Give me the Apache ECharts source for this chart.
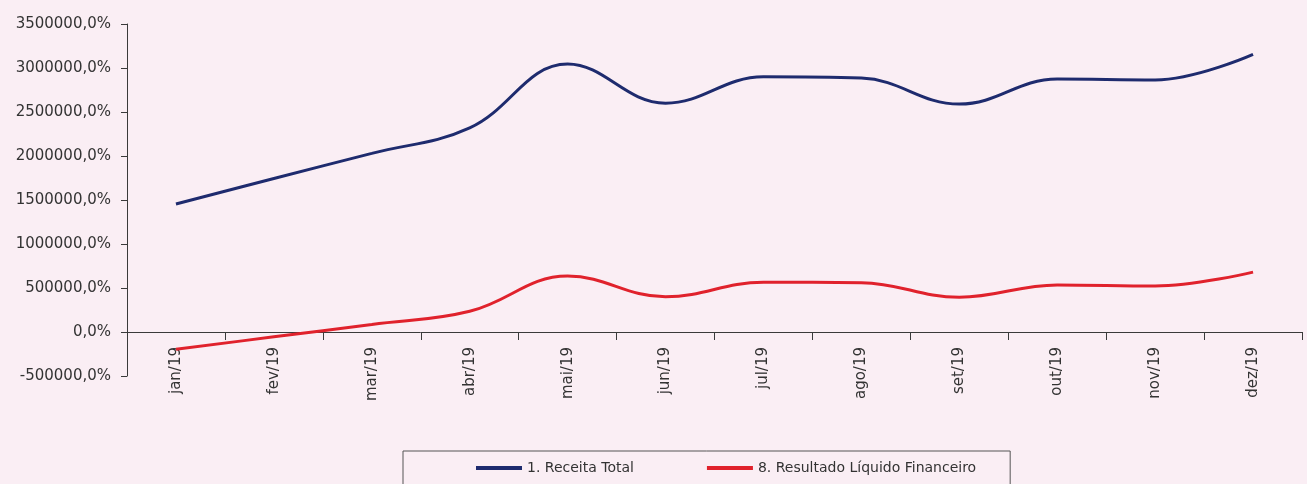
<!DOCTYPE html>
<html>
<head>
<meta charset="utf-8">
<script src="https://cdn.jsdelivr.net/npm/echarts@6/dist/echarts.min.js"></script>
<style>
  html, body { margin: 0; padding: 0; background: #faeef4; }
  #chart { width: 1307px; height: 484px; }
</style>
</head>
<body>
<div id="chart"></div>
<script>
// Monthly categories
const months = ['jan/19', 'fev/19', 'mar/19', 'abr/19', 'mai/19', 'jun/19',
                'jul/19', 'ago/19', 'set/19', 'out/19', 'nov/19', 'dez/19'];

// 1. Receita Total
const receitaTotal = [1455000, 1745000, 2030000, 2320000, 3045000, 2600000,
                      2900000, 2885000, 2590000, 2875000, 2865000, 3155000];

// 8. Resultado Líquido Financeiro
const resultadoLiquido = [-197000, -55000, 85000, 235000, 636000, 400000,
                          565000, 560000, 395000, 535000, 523000, 680000];

const seriesNames = ['1. Receita Total', '8. Resultado Líquido Financeiro'];

const FONT = 'DejaVu Sans';
const TEXT = '#333333';
const AXIS = '#3a3a3a';

const chart = echarts.init(document.getElementById('chart'), null, { renderer: 'canvas' });

chart.setOption({
  backgroundColor: '#faeef4',
  animation: false,
  grid: { left: 127, right: 5, top: 24, bottom: 108, containLabel: false },
  legend: {
    data: seriesNames,
    left: 403,
    top: 451,
    padding: [10, 34, 24, 73],
    itemGap: 73,
    itemWidth: 46,
    itemHeight: 4,
    icon: 'rect',
    borderColor: '#555555',
    borderWidth: 1,
    textStyle: { fontFamily: FONT, fontSize: 14, color: TEXT }
  },
  xAxis: {
    type: 'category',
    data: months,
    boundaryGap: true,
    axisLine: { onZero: true, lineStyle: { color: AXIS, width: 1 } },
    axisTick: { show: true, length: 8, alignWithLabel: false, lineStyle: { color: AXIS } },
    // labels sit just under the zero line rather than under the grid bottom
    axisLabel: { rotate: 90, margin: -29, fontFamily: FONT, fontSize: 15, color: TEXT, interval: 0 },
    splitLine: { show: false }
  },
  yAxis: {
    type: 'value',
    min: -500000,
    max: 3500000,
    interval: 500000,
    axisLine: { show: true, lineStyle: { color: AXIS, width: 1 } },
    axisTick: { show: true, length: 6, lineStyle: { color: AXIS } },
    axisLabel: {
      margin: 16,
      fontFamily: FONT,
      fontSize: 15,
      color: TEXT,
      formatter: v => v + ',0%'
    },
    splitLine: { show: false }
  },
  series: [
    {
      name: seriesNames[0],
      type: 'line',
      data: receitaTotal,
      smooth: 0.4,
      showSymbol: false,
      color: '#1e2b6e',
      lineStyle: { width: 3, color: '#1e2b6e' }
    },
    {
      name: seriesNames[1],
      type: 'line',
      data: resultadoLiquido,
      smooth: 0.4,
      showSymbol: false,
      color: '#e0222c',
      lineStyle: { width: 3, color: '#e0222c' }
    }
  ]
});
</script>
</body>
</html>
